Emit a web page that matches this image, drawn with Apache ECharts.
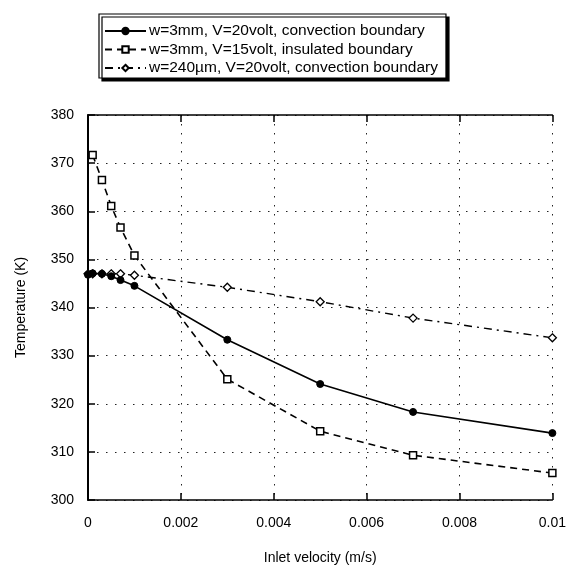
<!DOCTYPE html>
<html>
<head>
<meta charset="utf-8">
<script src="https://cdn.jsdelivr.net/npm/echarts@6/dist/echarts.min.js"></script>
<style>
  html, body { margin: 0; padding: 0; background: #fff; }
  #chart { width: 569px; height: 570px; }
</style>
</head>
<body>
<div id="chart"></div>
<script>
// Inlet velocity (m/s) and temperature (K) for the three heater configurations
const seriesNames = [
  'w=3mm, V=20volt, convection boundary',
  'w=3mm, V=15volt, insulated boundary',
  'w=240\u00b5m, V=20volt, convection boundary'
];
const velConv3mm = [0, 0.0001, 0.0003, 0.0005, 0.0007, 0.001, 0.003, 0.005, 0.007, 0.01];
const tempConv3mm = [346.8, 347.1, 347.0, 346.5, 345.7, 344.5, 333.3, 324.1, 318.3, 313.9];
const velIns3mm = [0.0001, 0.0003, 0.0005, 0.0007, 0.001, 0.003, 0.005, 0.007, 0.01];
const tempIns3mm = [371.7, 366.5, 361.1, 356.6, 350.8, 325.1, 314.3, 309.3, 305.6];
const velConv240 = [0, 0.0001, 0.0003, 0.0005, 0.0007, 0.001, 0.003, 0.005, 0.007, 0.01];
const tempConv240 = [347.0, 347.0, 347.0, 347.0, 347.0, 346.7, 344.2, 341.2, 337.8, 333.7];
const xTicks = [0, 0.002, 0.004, 0.006, 0.008, 0.01];
const yTicks = [300, 310, 320, 330, 340, 350, 360, 370, 380];

const pair = (xs, ys) => xs.map((x, i) => [x, ys[i]]);
const FONT = 'Liberation Sans, Arial, sans-serif';

const chart = echarts.init(document.getElementById('chart'), null, { renderer: 'canvas' });

const gridLine = { show: true, lineStyle: { color: '#222', width: 1, type: [1.5, 7.5] } };
const tickStyle = { show: true, inside: true, length: 7, lineStyle: { color: '#000', width: 1.5 } };

chart.setOption({
  backgroundColor: '#fff',
  animation: false,
  grid: { left: 88, right: 15, top: 115, bottom: 65, containLabel: false },
  legend: {
    orient: 'vertical',
    left: 99,
    top: 14,
    padding: [9, 8, 2, 5],
    itemGap: 2.5,
    itemWidth: 41,
    itemHeight: 8,
    backgroundColor: '#fff',
    borderColor: '#000',
    borderWidth: 1.2,
    shadowColor: '#000',
    shadowOffsetX: 3,
    shadowOffsetY: 3,
    shadowBlur: 0,
    textStyle: { fontFamily: FONT, fontSize: 15.5, lineHeight: 15, color: '#000', padding: [0, 0, 0, -2] },
    data: seriesNames
  },
  xAxis: [{
    type: 'value',
    min: xTicks[0],
    max: xTicks[xTicks.length - 1],
    interval: 0.002,
    name: 'Inlet velocity (m/s)',
    nameLocation: 'middle',
    nameGap: 51,
    nameTextStyle: { fontFamily: FONT, fontSize: 14, color: '#000' },
    axisLine: { show: true, lineStyle: { color: '#000', width: 1.5 } },
    axisTick: tickStyle,
    axisLabel: {
      fontFamily: FONT, fontSize: 14, color: '#000', margin: 16,
      formatter: v => String(+v.toFixed(3))
    },
    splitLine: gridLine
  }, {
    type: 'value',
    position: 'top',
    min: xTicks[0],
    max: xTicks[xTicks.length - 1],
    interval: 0.002,
    axisLine: { show: true, lineStyle: { color: '#000', width: 1.5 } },
    axisTick: tickStyle,
    axisLabel: { show: false },
    splitLine: { show: false }
  }],
  yAxis: {
    type: 'value',
    min: yTicks[0],
    max: yTicks[yTicks.length - 1],
    interval: 10,
    name: 'Temperature (K)',
    nameLocation: 'middle',
    nameGap: 60,
    nameTextStyle: { fontFamily: FONT, fontSize: 14, color: '#000' },
    axisLine: { show: true, lineStyle: { color: '#000', width: 2 } },
    axisTick: tickStyle,
    axisLabel: { fontFamily: FONT, fontSize: 14, color: '#000', margin: 14 },
    splitLine: gridLine
  },
  series: [{
    name: seriesNames[0],
    type: 'line',
    data: pair(velConv3mm, tempConv3mm),
    symbol: 'circle',
    symbolSize: 7,
    itemStyle: { color: '#000', borderColor: '#000', borderWidth: 1 },
    lineStyle: { color: '#000', width: 1.6, type: 'solid' },
    z: 4
  }, {
    name: seriesNames[1],
    type: 'line',
    data: pair(velIns3mm, tempIns3mm),
    symbol: 'rect',
    symbolSize: 7,
    itemStyle: { color: '#fff', borderColor: '#000', borderWidth: 1.5 },
    lineStyle: { color: '#000', width: 1.6, type: [7, 5] },
    z: 3
  }, {
    name: seriesNames[2],
    type: 'line',
    data: pair(velConv240, tempConv240),
    symbol: 'diamond',
    symbolSize: 8,
    itemStyle: { color: '#fff', borderColor: '#000', borderWidth: 1.3 },
    lineStyle: { color: '#000', width: 1.4, type: [8, 5, 2, 5] },
    z: 3
  }]
});
</script>
</body>
</html>
